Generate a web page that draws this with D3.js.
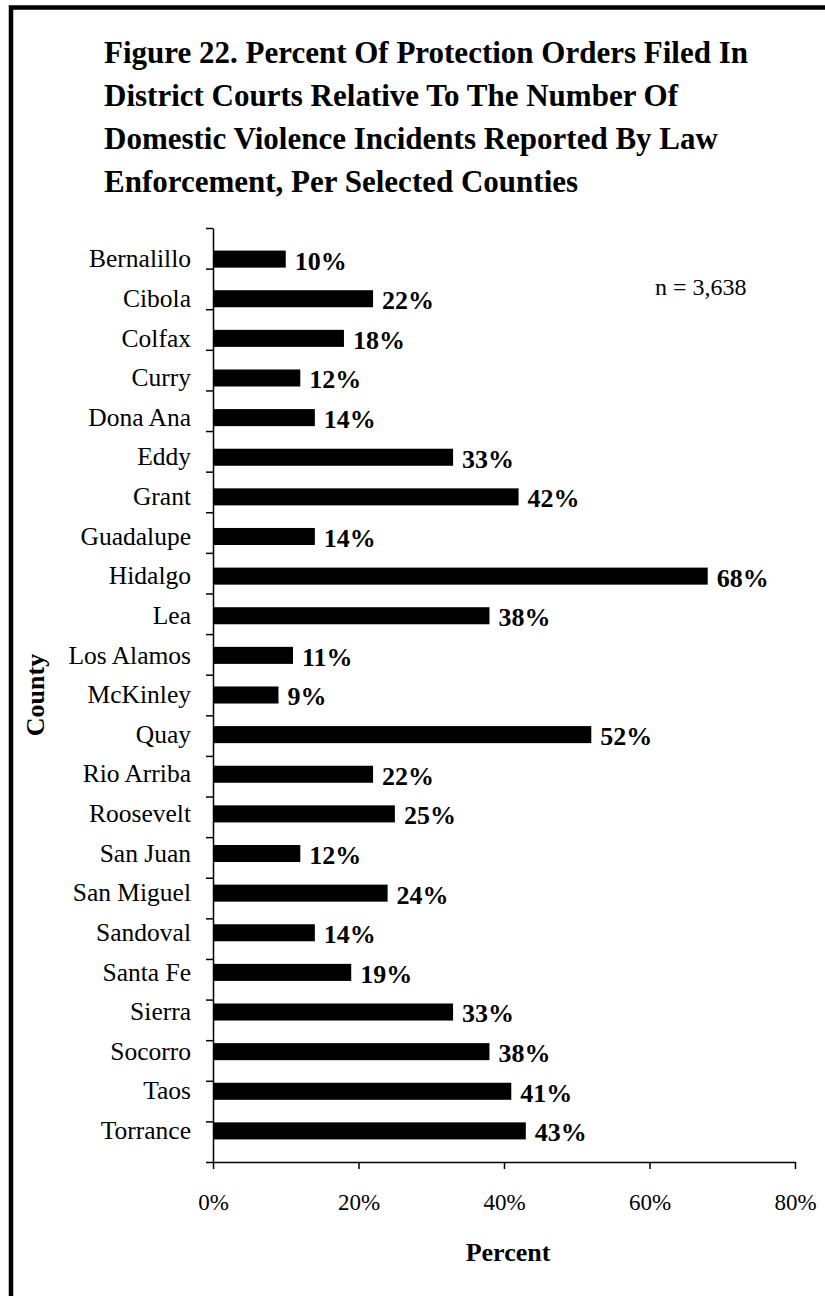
<!DOCTYPE html>
<html>
<head>
<meta charset="utf-8">
<script src="https://cdn.jsdelivr.net/npm/d3@7"></script>
<style>
  body { margin: 0; background: #fff; }
  text { font-family: "Liberation Serif", "Times New Roman", serif; fill: #000; }
</style>
</head>
<body>
<div id="canvas"></div>
<script>
// DATA
const counties = ["Bernalillo", "Cibola", "Colfax", "Curry", "Dona Ana", "Eddy", "Grant",
  "Guadalupe", "Hidalgo", "Lea", "Los Alamos", "McKinley", "Quay", "Rio Arriba", "Roosevelt",
  "San Juan", "San Miguel", "Sandoval", "Santa Fe", "Sierra", "Socorro", "Taos", "Torrance"];
const percents = [10, 22, 18, 12, 14, 33, 42, 14, 68, 38, 11, 9, 52, 22, 25, 12, 24, 14, 19, 33, 38, 41, 43];
const xTicks = [0, 20, 40, 60, 80];
const titleLines = [
  "Figure 22. Percent Of Protection Orders Filed In",
  "District Courts Relative To The Number Of",
  "Domestic Violence Incidents Reported By Law",
  "Enforcement, Per Selected Counties"
];
const note = "n = 3,638";

function drawGraph() {
  // DIMENSIONS
  const width = 825;
  const height = 1296;
  const margin = { top: 228, bottom: 134, left: 213, right: 30 };
  const plot_width = 582;
  const plot_height = height - margin.top - margin.bottom;

  const data = counties.map((c, i) => ({ county: c, pct: percents[i] }));

  // CANVAS
  const canvas = d3.select('#canvas')
    .append('svg')
    .attr('width', width)
    .attr('height', height);

  // frame
  canvas.append('rect')
    .attr('x', 11)
    .attr('y', 7.5)
    .attr('width', 840)
    .attr('height', 1320)
    .attr('fill', 'none')
    .attr('stroke', '#000')
    .attr('stroke-width', 4.5);

  // TITLE
  canvas.append('g').selectAll('text').data(titleLines).enter()
    .append('text')
    .attr('x', 104)
    .attr('y', (d, i) => 63 + i * 43)
    .style('font-size', '31px')
    .style('font-weight', 'bold')
    .text(d => d);

  const plot = canvas.append('g')
    .attr('transform', `translate(${margin.left},${margin.top})`);

  // SCALES
  const scaleX = d3.scaleLinear().domain([0, 80]).range([0, plot_width]);
  const scaleY = d3.scaleBand(counties, [0, plot_height]).padding(0.57);
  const scaleIdx = d3.scaleLinear().domain([0, counties.length]).range([0, plot_height]);

  // BARS
  plot.selectAll('rect').data(data).enter()
    .append('rect')
    .attr('x', 0)
    .attr('y', d => scaleY(d.county))
    .attr('width', d => scaleX(d.pct))
    .attr('height', scaleY.bandwidth())
    .style('fill', '#000');

  // VALUE LABELS
  plot.selectAll('text.val').data(data).enter()
    .append('text')
    .attr('class', 'val')
    .attr('x', d => scaleX(d.pct) + 9)
    .attr('y', d => scaleY(d.county) + scaleY.bandwidth() / 2)
    .attr('dy', '0.4em')
    .style('font-size', '26px')
    .style('font-weight', 'bold')
    .text(d => d.pct + '%');

  // AXES
  const xaxis = plot.append('g')
    .attr('transform', `translate(0,${plot_height})`)
    .call(d3.axisBottom(scaleX).tickValues(xTicks).tickSize(7).tickSizeOuter(0)
      .tickFormat(d => d + '%'));
  xaxis.select('.domain').attr('stroke-width', 1.5);
  xaxis.selectAll('line').attr('stroke-width', 1.5);
  xaxis.selectAll('text')
    .attr('dy', '0')
    .attr('y', 48)
    .style('font-size', '23px')
    .style('font-family', '"Liberation Serif", serif');

  // y axis: boundary ticks
  const yaxis = plot.append('g')
    .call(d3.axisLeft(scaleIdx).tickValues(d3.range(counties.length + 1)).tickSize(7)
      .tickSizeOuter(0).tickFormat(''));
  yaxis.select('.domain').attr('stroke-width', 1.5);
  yaxis.selectAll('line').attr('stroke-width', 1.5);

  // y axis: category labels
  const ylabels = plot.append('g')
    .call(d3.axisLeft(scaleY).tickSize(0).tickPadding(22));
  ylabels.select('.domain').remove();
  ylabels.selectAll('text')
    .style('font-size', '25.5px')
    .style('font-family', '"Liberation Serif", serif');

  // AXIS TITLES
  canvas.append('text')
    .attr('transform', `translate(44,${margin.top + plot_height / 2}) rotate(-90)`)
    .attr('text-anchor', 'middle')
    .style('font-size', '26px')
    .style('font-weight', 'bold')
    .text('County');

  canvas.append('text')
    .attr('x', margin.left + plot_width / 2 + 4)
    .attr('y', 1261)
    .attr('text-anchor', 'middle')
    .style('font-size', '26px')
    .style('font-weight', 'bold')
    .text('Percent');

  // NOTE
  canvas.append('text')
    .attr('x', 655)
    .attr('y', 295)
    .style('font-size', '24px')
    .text(note);
}

drawGraph();
</script>
</body>
</html>
